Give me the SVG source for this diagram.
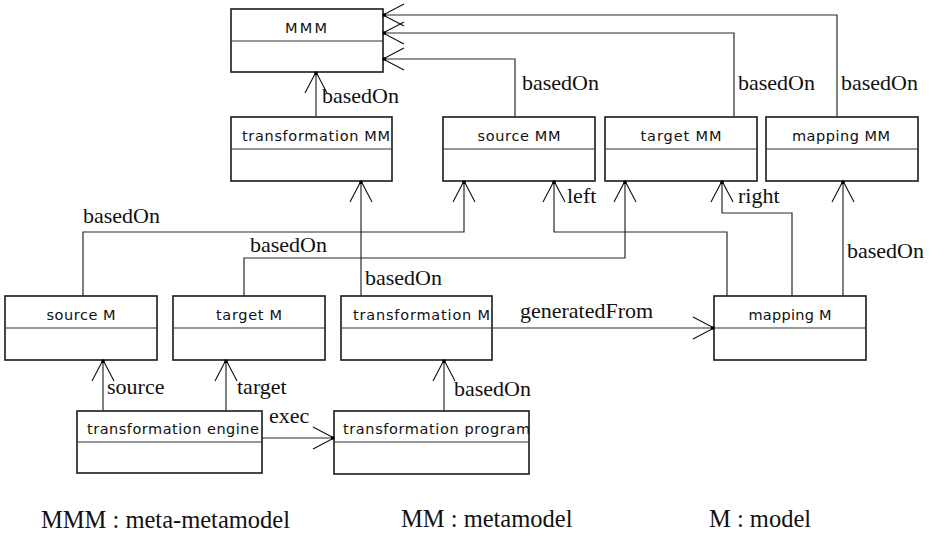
<svg xmlns="http://www.w3.org/2000/svg" width="934" height="536" viewBox="0 0 934 536">
  <style>
    .box rect { fill: #ffffff; stroke: #1a1a1a; stroke-width: 1.6; }
    .box line { stroke: #333333; stroke-width: 1.1; }
    .box text { font-family: "DejaVu Sans", "Liberation Sans", sans-serif; font-size: 14.5px; fill: #111111; }
    .conn { fill: none; stroke: #2a2a2a; stroke-width: 1.2; marker-end: url(#open); }
    .lbl { font-family: "Liberation Serif", "Times New Roman", serif; font-size: 22px; fill: #111111; }
    .legend { font-family: "Liberation Serif", "Times New Roman", serif; font-size: 24.5px; fill: #111111; }
  </style>
  <defs>
    <marker id="open" markerUnits="userSpaceOnUse" orient="auto" viewBox="-24 -14 28 28" markerWidth="28" markerHeight="28" refX="0" refY="0">
      <path d="M-21,-11 L0,0 L-21,11" fill="none" stroke="#111111" stroke-width="1.1"/>
      <rect x="-3" y="-1.6" width="3.2" height="3.2" fill="#000000"/>
    </marker>
  </defs>

  <!-- class boxes -->
  <g id="mmm" class="box">
    <rect x="231" y="9" width="152" height="63"/>
    <line x1="231" y1="41" x2="383" y2="41"/>
    <text x="306" y="33" text-anchor="middle" textLength="42" lengthAdjust="spacing">MMM</text>
  </g>
  <g id="transformation-mm" class="box">
    <rect x="231" y="117" width="161" height="64"/>
    <line x1="231" y1="149" x2="392" y2="149"/>
    <text x="242" y="141" textLength="148" lengthAdjust="spacing">transformation MM</text>
  </g>
  <g id="source-mm" class="box">
    <rect x="443" y="117" width="152" height="64"/>
    <line x1="443" y1="149" x2="595" y2="149"/>
    <text x="519" y="141" text-anchor="middle" textLength="83" lengthAdjust="spacing">source MM</text>
  </g>
  <g id="target-mm" class="box">
    <rect x="605" y="117" width="152" height="64"/>
    <line x1="605" y1="149" x2="757" y2="149"/>
    <text x="681" y="141" text-anchor="middle" textLength="81" lengthAdjust="spacing">target MM</text>
  </g>
  <g id="mapping-mm" class="box">
    <rect x="766" y="117" width="152" height="64"/>
    <line x1="766" y1="149" x2="918" y2="149"/>
    <text x="841" y="141" text-anchor="middle" textLength="98" lengthAdjust="spacing">mapping MM</text>
  </g>
  <g id="source-m" class="box">
    <rect x="5" y="296" width="152" height="64"/>
    <line x1="5" y1="328" x2="157" y2="328"/>
    <text x="81" y="320" text-anchor="middle" textLength="69" lengthAdjust="spacing">source M</text>
  </g>
  <g id="target-m" class="box">
    <rect x="173" y="296" width="152" height="64"/>
    <line x1="173" y1="328" x2="325" y2="328"/>
    <text x="249" y="320" text-anchor="middle" textLength="66" lengthAdjust="spacing">target M</text>
  </g>
  <g id="transformation-m" class="box">
    <rect x="341" y="296" width="151" height="64"/>
    <line x1="341" y1="328" x2="492" y2="328"/>
    <text x="353" y="320" textLength="137" lengthAdjust="spacing">transformation M</text>
  </g>
  <g id="mapping-m" class="box">
    <rect x="714" y="296" width="152" height="64"/>
    <line x1="714" y1="328" x2="866" y2="328"/>
    <text x="790" y="320" text-anchor="middle" textLength="83" lengthAdjust="spacing">mapping M</text>
  </g>
  <g id="transformation-engine" class="box">
    <rect x="77" y="411" width="185" height="62"/>
    <line x1="77" y1="442" x2="262" y2="442"/>
    <text x="87" y="434" textLength="172" lengthAdjust="spacing">transformation engine</text>
  </g>
  <g id="transformation-program" class="box">
    <rect x="334" y="411" width="195" height="63"/>
    <line x1="334" y1="442" x2="529" y2="442"/>
    <text x="343" y="434" textLength="187" lengthAdjust="spacing">transformation program</text>
  </g>

  <!-- connectors -->
  <g id="connectors">
    <polyline class="conn" points="316,117 316,72"/>
    <polyline class="conn" points="515,117 515,59 383,59"/>
    <polyline class="conn" points="734,117 734,33 383,33"/>
    <polyline class="conn" points="837,117 837,15 383,15"/>
    <polyline class="conn" points="361,296 361,181"/>
    <polyline class="conn" points="83,296 83,232 464,232 464,181"/>
    <polyline class="conn" points="244,296 244,258 625,258 625,181"/>
    <polyline class="conn" points="727,296 727,232 554,232 554,181"/>
    <polyline class="conn" points="792,296 792,213 722,213 722,181"/>
    <polyline class="conn" points="843,296 843,181"/>
    <polyline class="conn" points="492,328 714,328"/>
    <polyline class="conn" points="444,411 444,360"/>
    <polyline class="conn" points="103,411 103,360"/>
    <polyline class="conn" points="226,411 226,360"/>
    <polyline class="conn" points="262,438 334,438"/>

    <text class="lbl" x="322" y="103">basedOn</text>
    <text class="lbl" x="522" y="90">basedOn</text>
    <text class="lbl" x="738" y="90">basedOn</text>
    <text class="lbl" x="841" y="90">basedOn</text>
    <text class="lbl" x="567" y="203">left</text>
    <text class="lbl" x="738" y="203">right</text>
    <text class="lbl" x="83" y="223">basedOn</text>
    <text class="lbl" x="250" y="252">basedOn</text>
    <text class="lbl" x="847" y="258">basedOn</text>
    <text class="lbl" x="365" y="285">basedOn</text>
    <text class="lbl" x="520" y="318">generatedFrom</text>
    <text class="lbl" x="107" y="394">source</text>
    <text class="lbl" x="237" y="394">target</text>
    <text class="lbl" x="454" y="396">basedOn</text>
    <text class="lbl" x="269" y="423">exec</text>
  </g>

  <!-- legend -->
  <text class="legend" x="41" y="528">MMM : meta-metamodel</text>
  <text class="legend" x="401" y="527">MM : metamodel</text>
  <text class="legend" x="709" y="527">M : model</text>
</svg>
